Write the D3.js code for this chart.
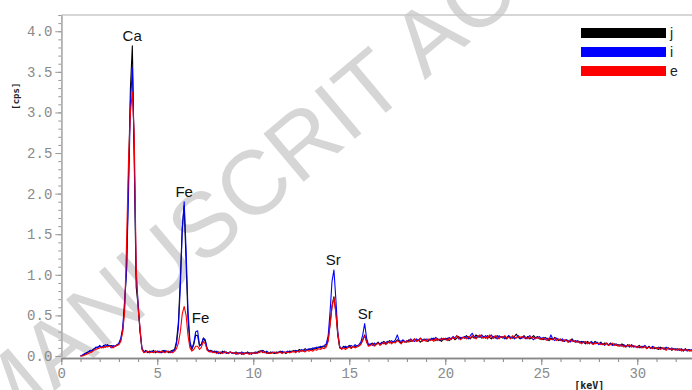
<!DOCTYPE html>
<html>
<head>
<meta charset="utf-8">
<script src="https://cdn.jsdelivr.net/npm/d3@7.9.0/dist/d3.min.js"></script>
<style>
  html, body { margin: 0; padding: 0; background: #fff; }
  svg { display: block; }
</style>
</head>
<body>
<svg id="chart" width="692" height="390"></svg>
<script>
/* --- Spectrum data: cps per 0.1 keV channel, starting at 1.0 keV --- */
const channelStart = 1.0;   // keV of first channel
const channelWidth = 0.1;   // keV per channel

const seriesNames = ['j', 'i', 'e'];
const seriesColors = ['#000000', '#0000ff', '#ff0000'];

const countsJ = [
  0.00,0.01,0.02,0.04,0.05,0.06,0.07,0.09,0.10,0.11,
  0.12,0.10,0.13,0.11,0.14,0.12,0.13,0.11,0.12,0.14,
  0.15,0.20,0.32,0.62,1.10,2.20,3.30,3.82,2.40,0.85,
  0.62,0.30,0.09,0.05,0.07,0.04,0.06,0.05,0.07,0.04,
  0.06,0.05,0.04,0.07,0.05,0.06,0.04,0.06,0.07,0.08,
  0.18,0.42,0.95,1.58,1.85,1.15,0.45,0.15,0.08,0.14,
  0.26,0.25,0.12,0.15,0.22,0.18,0.08,0.06,0.07,0.05,
  0.06,0.04,0.05,0.03,0.06,0.04,0.05,0.03,0.05,0.04,
  0.03,0.05,0.03,0.04,0.02,0.04,0.03,0.05,0.03,0.04,
  0.03,0.05,0.04,0.06,0.05,0.07,0.05,0.04,0.03,0.05,
  0.04,0.03,0.05,0.04,0.06,0.04,0.05,0.03,0.05,0.06,
  0.05,0.07,0.05,0.06,0.08,0.06,0.07,0.09,0.07,0.08,
  0.09,0.08,0.10,0.09,0.11,0.10,0.12,0.11,0.13,0.20,
  0.40,0.62,0.73,0.55,0.25,0.10,0.09,0.12,0.10,0.11,
  0.13,0.10,0.12,0.11,0.13,0.12,0.15,0.20,0.26,0.18,
  0.13,0.14,0.16,0.13,0.15,0.17,0.14,0.16,0.18,0.15,
  0.17,0.19,0.16,0.18,0.17,0.20,0.18,0.16,0.19,0.18,
  0.17,0.20,0.18,0.19,0.21,0.18,0.20,0.17,0.19,0.21,
  0.19,0.18,0.21,0.20,0.22,0.19,0.21,0.20,0.18,0.21,
  0.20,0.22,0.19,0.21,0.23,0.20,0.22,0.24,0.21,0.23,
  0.22,0.25,0.23,0.21,0.24,0.22,0.26,0.23,0.25,0.22,
  0.24,0.22,0.25,0.23,0.21,0.24,0.22,0.25,0.23,0.24,
  0.22,0.24,0.21,0.25,0.23,0.22,0.24,0.27,0.23,0.21,
  0.23,0.25,0.22,0.24,0.21,0.23,0.25,0.22,0.24,0.21,
  0.22,0.20,0.23,0.21,0.19,0.22,0.20,0.23,0.21,0.19,
  0.21,0.19,0.18,0.20,0.17,0.19,0.21,0.18,0.17,0.19,
  0.16,0.18,0.17,0.15,0.18,0.16,0.17,0.15,0.18,0.16,
  0.15,0.17,0.14,0.16,0.15,0.13,0.16,0.14,0.15,0.13,
  0.14,0.12,0.15,0.13,0.11,0.14,0.12,0.13,0.11,0.12,
  0.11,0.13,0.10,0.12,0.11,0.09,0.12,0.10,0.11,0.09,
  0.10,0.08,0.11,0.09,0.10,0.08,0.10,0.09,0.07,0.09,
  0.08,0.09,0.07,0.08,0.06,0.09,0.07,0.08,0.06,0.08,
  0.07
];

const countsI = [
  0.00,0.01,0.03,0.03,0.05,0.07,0.06,0.08,0.11,0.10,
  0.13,0.11,0.12,0.14,0.12,0.13,0.10,0.13,0.12,0.13,
  0.16,0.22,0.35,0.70,1.05,2.00,3.10,3.55,2.50,1.00,
  0.66,0.32,0.10,0.05,0.06,0.05,0.04,0.06,0.05,0.06,
  0.05,0.06,0.04,0.05,0.07,0.05,0.06,0.04,0.06,0.07,
  0.15,0.35,0.85,1.55,1.90,1.30,0.55,0.18,0.09,0.16,
  0.30,0.31,0.13,0.14,0.22,0.20,0.09,0.06,0.05,0.06,
  0.04,0.06,0.03,0.05,0.04,0.06,0.03,0.04,0.05,0.03,
  0.04,0.02,0.04,0.03,0.05,0.02,0.04,0.03,0.04,0.02,
  0.04,0.03,0.05,0.04,0.07,0.05,0.04,0.06,0.04,0.03,
  0.05,0.04,0.03,0.05,0.04,0.06,0.04,0.05,0.06,0.04,
  0.06,0.05,0.07,0.06,0.05,0.08,0.07,0.06,0.08,0.09,
  0.08,0.10,0.09,0.11,0.10,0.12,0.11,0.13,0.15,0.25,
  0.55,0.92,1.06,0.70,0.30,0.12,0.09,0.11,0.12,0.10,
  0.12,0.13,0.11,0.14,0.12,0.14,0.17,0.26,0.40,0.22,
  0.14,0.15,0.13,0.16,0.14,0.16,0.15,0.17,0.15,0.17,
  0.18,0.16,0.19,0.17,0.20,0.26,0.19,0.18,0.20,0.17,
  0.19,0.18,0.21,0.19,0.18,0.21,0.19,0.22,0.20,0.19,
  0.21,0.20,0.19,0.22,0.20,0.23,0.21,0.19,0.22,0.20,
  0.22,0.20,0.23,0.21,0.24,0.22,0.25,0.21,0.23,0.22,
  0.24,0.23,0.21,0.25,0.28,0.24,0.22,0.25,0.23,0.26,
  0.23,0.25,0.22,0.24,0.26,0.22,0.24,0.21,0.25,0.23,
  0.24,0.21,0.23,0.25,0.22,0.24,0.21,0.23,0.25,0.22,
  0.22,0.24,0.21,0.23,0.25,0.22,0.20,0.23,0.22,0.24,
  0.21,0.23,0.20,0.22,0.20,0.26,0.21,0.19,0.22,0.20,
  0.19,0.21,0.18,0.20,0.19,0.17,0.20,0.18,0.19,0.17,
  0.18,0.16,0.18,0.16,0.17,0.15,0.18,0.16,0.15,0.17,
  0.14,0.16,0.15,0.13,0.16,0.14,0.15,0.13,0.14,0.15,
  0.13,0.14,0.12,0.14,0.12,0.13,0.11,0.14,0.12,0.11,
  0.12,0.10,0.12,0.11,0.13,0.10,0.11,0.09,0.12,0.10,
  0.09,0.11,0.09,0.10,0.08,0.11,0.09,0.08,0.10,0.08,
  0.09,0.07,0.08,0.09,0.07,0.08,0.06,0.08,0.07,0.09,
  0.07
];

const countsE = [
  0.00,0.00,0.01,0.02,0.03,0.04,0.05,0.07,0.08,0.09,
  0.10,0.11,0.10,0.12,0.11,0.12,0.11,0.10,0.12,0.13,
  0.14,0.18,0.30,0.55,1.40,2.40,3.00,3.25,2.70,1.10,
  0.58,0.35,0.08,0.04,0.05,0.06,0.04,0.05,0.04,0.06,
  0.05,0.04,0.06,0.05,0.04,0.06,0.05,0.05,0.04,0.06,
  0.09,0.16,0.30,0.52,0.61,0.50,0.25,0.10,0.06,0.08,
  0.12,0.12,0.08,0.11,0.18,0.15,0.07,0.05,0.06,0.04,
  0.05,0.03,0.05,0.04,0.03,0.05,0.04,0.03,0.05,0.04,
  0.03,0.04,0.02,0.04,0.03,0.02,0.04,0.03,0.02,0.04,
  0.03,0.04,0.03,0.05,0.06,0.04,0.05,0.03,0.04,0.03,
  0.04,0.05,0.03,0.04,0.05,0.03,0.05,0.04,0.05,0.04,
  0.05,0.06,0.04,0.06,0.05,0.07,0.06,0.05,0.07,0.06,
  0.07,0.06,0.08,0.07,0.09,0.08,0.10,0.09,0.11,0.18,
  0.38,0.60,0.72,0.52,0.28,0.11,0.08,0.10,0.08,0.10,
  0.11,0.09,0.12,0.10,0.11,0.13,0.14,0.19,0.25,0.17,
  0.12,0.13,0.15,0.12,0.14,0.16,0.13,0.15,0.17,0.14,
  0.16,0.18,0.15,0.17,0.16,0.19,0.17,0.15,0.18,0.17,
  0.19,0.17,0.20,0.18,0.21,0.18,0.19,0.22,0.18,0.20,
  0.18,0.21,0.19,0.20,0.18,0.22,0.19,0.21,0.20,0.22,
  0.21,0.19,0.22,0.20,0.23,0.21,0.25,0.22,0.20,0.23,
  0.23,0.21,0.24,0.22,0.25,0.23,0.21,0.24,0.26,0.23,
  0.22,0.24,0.21,0.26,0.23,0.22,0.25,0.23,0.21,0.24,
  0.23,0.25,0.22,0.23,0.21,0.25,0.23,0.22,0.24,0.23,
  0.24,0.22,0.23,0.21,0.24,0.22,0.23,0.21,0.23,0.22,
  0.20,0.22,0.21,0.19,0.22,0.20,0.21,0.22,0.19,0.21,
  0.20,0.18,0.20,0.19,0.17,0.20,0.18,0.19,0.17,0.18,
  0.17,0.15,0.17,0.18,0.15,0.17,0.16,0.14,0.16,0.15,
  0.16,0.14,0.15,0.14,0.16,0.13,0.14,0.16,0.13,0.14,
  0.12,0.14,0.13,0.11,0.13,0.12,0.14,0.11,0.13,0.12,
  0.10,0.12,0.11,0.10,0.12,0.09,0.11,0.10,0.09,0.11,
  0.09,0.10,0.08,0.10,0.09,0.07,0.10,0.08,0.09,0.08,
  0.07,0.08,0.09,0.06,0.08,0.07,0.08,0.06,0.07,0.06,
  0.07
];

/* --- Peak annotations --- */
const peakLabels = ['Ca', 'Fe', 'Fe', 'Sr', 'Sr'];
const peakEnergies = [3.69, 6.40, 7.10, 14.16, 15.83];
const peakHeights = [3.82, 1.90, 0.35, 1.06, 0.40];

/* --- Axis ticks --- */
const yMajorTicks = [0, 0.5, 1.0, 1.5, 2.0, 2.5, 3.0, 3.5, 4.0];
const xMajorTicks = [0, 5, 10, 15, 20, 25, 30];

/* --- Watermark --- */
const watermarkText = 'MANUSCRIT ACCEPTÉ';

/* --- Scales --- */
const svg = d3.select('#chart');
const x = d3.scaleLinear().domain([0, 33]).range([61.3, 694.9]);
const y = d3.scaleLinear().domain([0, 4.2]).range([356, 15]);

/* --- Watermark (behind everything) --- */
svg.append('text')
  .attr('transform', 'translate(-4,440) rotate(-40)')
  .attr('font-family', 'Liberation Sans, Arial, sans-serif')
  .attr('font-size', 91)
  .attr('fill', '#d6d6d6')
  .text(watermarkText);

/* --- Frame top line --- */
svg.append('line')
  .attr('x1', x(0)).attr('x2', 692)
  .attr('y1', y(4.2)).attr('y2', y(4.2))
  .attr('stroke', '#c8c8c8')
  .attr('stroke-width', 1.5);

/* --- Y axis --- */
const yAxis = svg.append('g').attr('transform', `translate(${x(0)},0)`);
yAxis.call(d3.axisLeft(y).ticks(42).tickSize(3).tickFormat('').tickSizeOuter(0));
yAxis.append('g').call(d3.axisLeft(y).tickValues(yMajorTicks).tickSize(6)
  .tickPadding(3).tickFormat(d3.format('.1f')).tickSizeOuter(0));
yAxis.selectAll('path.domain').attr('stroke', '#b0b0b0').attr('stroke-width', 1.5);
yAxis.selectAll('.tick line').attr('stroke', '#999');
yAxis.selectAll('.tick text')
  .attr('font-family', 'Liberation Mono, monospace')
  .attr('font-size', 14)
  .attr('fill', '#8a8a8a');

/* --- X axis --- */
const xAxisY = 358;
const xAxis = svg.append('g').attr('transform', `translate(0,${xAxisY})`);
xAxis.call(d3.axisBottom(x).ticks(33).tickSize(4).tickFormat('').tickSizeOuter(0));
xAxis.append('g').call(d3.axisBottom(x).tickValues(xMajorTicks).tickSize(7)
  .tickPadding(3).tickFormat(d3.format('d')).tickSizeOuter(0));
xAxis.selectAll('path.domain').attr('stroke', '#888').attr('stroke-width', 1.5);
xAxis.selectAll('.tick line').attr('stroke', '#888');
xAxis.selectAll('.tick text')
  .attr('font-family', 'Liberation Mono, monospace')
  .attr('font-size', 14)
  .attr('fill', '#8a8a8a');

/* --- Axis unit labels --- */
svg.append('text')
  .attr('transform', `translate(19,${y(3.2)}) rotate(-90)`)
  .attr('text-anchor', 'middle')
  .attr('font-family', 'DejaVu Sans Mono, monospace')
  .attr('font-weight', 'bold')
  .attr('font-size', 9)
  .attr('fill', '#222')
  .text('[cps]');

svg.append('text')
  .attr('x', x(27.5))
  .attr('y', 389)
  .attr('text-anchor', 'middle')
  .attr('font-family', 'DejaVu Sans Mono, monospace')
  .attr('font-weight', 'bold')
  .attr('font-size', 10)
  .attr('fill', '#222')
  .text('[keV]');

/* --- Spectra --- */
const allCounts = [countsJ, countsI, countsE];
const line = d3.line()
  .x((d, k) => x(channelStart + k * channelWidth))
  .y(d => y(d));

svg.append('g')
  .selectAll('path')
  .data(allCounts)
  .join('path')
  .attr('d', d => line(d))
  .attr('fill', 'none')
  .attr('stroke', (_, i) => seriesColors[i])
  .attr('stroke-width', 1.1)
  .attr('stroke-linejoin', 'round');

/* --- Peak labels --- */
svg.append('g')
  .selectAll('text')
  .data(peakLabels)
  .join('text')
  .attr('x', (_, i) => x(peakEnergies[i]) + (i === 2 ? 3 : 0))
  .attr('y', (_, i) => y(peakHeights[i]) - 5)
  .attr('text-anchor', 'middle')
  .attr('font-family', 'Liberation Sans, Arial, sans-serif')
  .attr('font-size', 15)
  .attr('fill', '#111')
  .text(d => d);

/* --- Legend --- */
const legend = svg.append('g').attr('transform', 'translate(581,28)');
const legendItems = legend.selectAll('g')
  .data(seriesNames)
  .join('g')
  .attr('transform', (_, i) => `translate(0,${i * 19})`);

legendItems.append('rect')
  .attr('width', 85)
  .attr('height', 10)
  .attr('fill', (_, i) => seriesColors[i]);

legendItems.append('text')
  .attr('x', 89)
  .attr('y', 10)
  .attr('font-family', 'Liberation Sans, Arial, sans-serif')
  .attr('font-size', 14)
  .attr('fill', '#222')
  .text(d => d);
</script>
</body>
</html>
